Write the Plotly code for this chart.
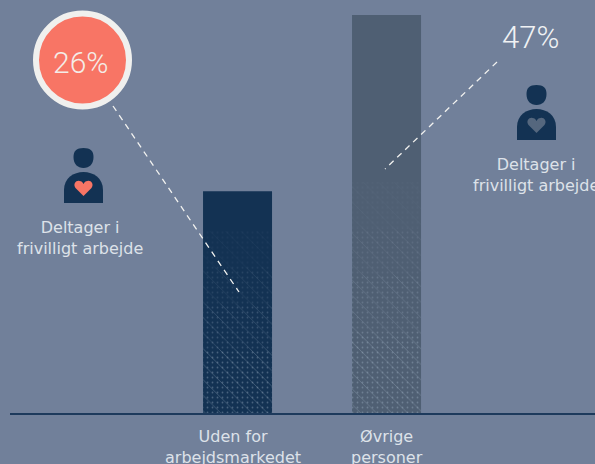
import plotly.graph_objects as go

categories = ["Uden for<br>arbejdsmarkedet", "Øvrige<br>personer"]
values = [26.2, 47]
value_labels = ["26%", "47%"]
icon_label = "Deltager i<br>frivilligt arbejde"
label_shift = [-5, 0]
texture_top = [0.82, 0.58]
texture_bands = [(0.0, 0.35, 0.36), (0.35, 0.6, 0.24), (0.6, 0.8, 0.13), (0.8, 1.0, 0.05)]
texture_layers = [(".", 5, 0.1), ("\\", 11, 0.07)]

W, H = 595, 464
AXIS_Y, LEFT = 413, 10
BG, NAVY, SLATE = "#71809a", "#133253", "#4f5f73"
CORAL, TXT = "#f87565", "#dde2e9"
FONT = "DejaVu Sans"

def px(x): return (x - LEFT) / (W - LEFT)
def py(y): return (AXIS_Y - y) / AXIS_Y

fig = go.Figure()
fig.add_bar(x=categories, y=values, marker_color=[NAVY, SLATE], marker_line_width=0,
            width=0.463, hoverinfo="skip", showlegend=False)
for shape, size, sol in texture_layers:
    for lo, hi, op in texture_bands:
        tops = [v * s for v, s in zip(values, texture_top)]
        fig.add_bar(x=categories, y=[t * (hi - lo) for t in tops], base=[t * lo for t in tops],
                    width=0.463, showlegend=False, hoverinfo="skip",
                    marker=dict(color="rgba(0,0,0,0)", line_width=0,
                                pattern=dict(shape=shape, size=size, solidity=sol, fgcolor="#a8b8cc",
                                             fgopacity=op, bgcolor="rgba(0,0,0,0)", fillmode="overlay")))

dash = dict(color="#f2f2f0", width=1.3, dash="6px,5px")
shapes = [
    dict(type="line", xref="paper", yref="paper", x0=px(113), y0=py(106), x1=px(239), y1=py(292),
         line=dash, layer="above"),
    dict(type="line", xref="paper", yref="paper", x0=px(497), y0=py(62), x1=px(385), y1=py(169),
         line=dash, layer="above"),
    dict(type="circle", xref="paper", yref="paper", x0=px(36), x1=px(129), y0=py(106.5), y1=py(13.5),
         fillcolor=CORAL, line=dict(color="#f0f0ee", width=6), layer="above"),
]

def person(cx, top, heart):
    X = lambda d: px(cx + d)
    Y = lambda d: py(top + d)
    head = (f"M{X(0)},{Y(0)} C{X(7)},{Y(0)} {X(10)},{Y(3)} {X(10)},{Y(9)} "
            f"C{X(10)},{Y(16)} {X(6)},{Y(20)} {X(0)},{Y(20)} C{X(-6)},{Y(20)} {X(-10)},{Y(16)} {X(-10)},{Y(9)} "
            f"C{X(-10)},{Y(3)} {X(-7)},{Y(0)} {X(0)},{Y(0)} Z")
    body = (f"M{X(-19.5)},{Y(55)} L{X(-19.5)},{Y(42)} C{X(-19.5)},{Y(30)} {X(-10)},{Y(24)} {X(0)},{Y(24)} "
            f"C{X(10)},{Y(24)} {X(19.5)},{Y(30)} {X(19.5)},{Y(42)} L{X(19.5)},{Y(55)} Z")
    hrt = (f"M{X(0)},{Y(48)} L{X(-8)},{Y(40)} C{X(-11)},{Y(36)} {X(-7)},{Y(32)} {X(-4)},{Y(33)} "
           f"C{X(-2)},{Y(33)} {X(-1)},{Y(34)} {X(0)},{Y(36)} C{X(1)},{Y(34)} {X(2)},{Y(33)} {X(4)},{Y(33)} "
           f"C{X(7)},{Y(32)} {X(11)},{Y(36)} {X(8)},{Y(40)} Z")
    return [dict(type="path", xref="paper", yref="paper", path=p, fillcolor=c, line_width=0, layer="above")
            for p, c in ((head, NAVY), (body, NAVY), (hrt, heart))]

shapes += person(83.5, 148, CORAL) + person(536.5, 85, "#55677e")

ann = [
    dict(x=px(80), y=py(62), text=value_labels[0], font=dict(size=30, color="#f4ede8", family="Roboto", weight=300)),
    dict(x=px(530), y=py(38), text=value_labels[1], font=dict(size=31, color="#f0f2f4", family="Roboto", weight=300)),
    dict(x=px(80), y=py(238), text=icon_label, font=dict(size=16, color=TXT, family=FONT)),
    dict(x=px(536), y=py(175), text=icon_label, font=dict(size=16, color=TXT, family=FONT)),
]
for a in ann:
    a.update(xref="paper", yref="paper", showarrow=False, xanchor="center", yanchor="middle")
for c, s in zip(categories, label_shift):
    ann.append(dict(x=c, xref="x", y=py(425), yref="paper", xshift=s, text=c, showarrow=False,
                    xanchor="center", yanchor="top", font=dict(size=16, color=TXT, family=FONT)))

fig.update_layout(
    width=W, height=H, autosize=False, barmode="overlay",
    paper_bgcolor=BG, plot_bgcolor=BG,
    margin=dict(l=LEFT, r=0, t=0, b=H - AXIS_Y),
    shapes=shapes, annotations=ann,
    xaxis=dict(type="category", range=[-1.527, 2.399], showgrid=False, zeroline=False, automargin=False,
               showline=True, linecolor="#1d3a5c", linewidth=1.5, ticks="", showticklabels=False),
    yaxis=dict(range=[0, 47 * 413 / 398], visible=False, automargin=False),
)
fig.write_html("out.html", config=dict(displayModeBar=False),
               post_script="document.body.style.margin='0';document.body.style.overflow='hidden';")
